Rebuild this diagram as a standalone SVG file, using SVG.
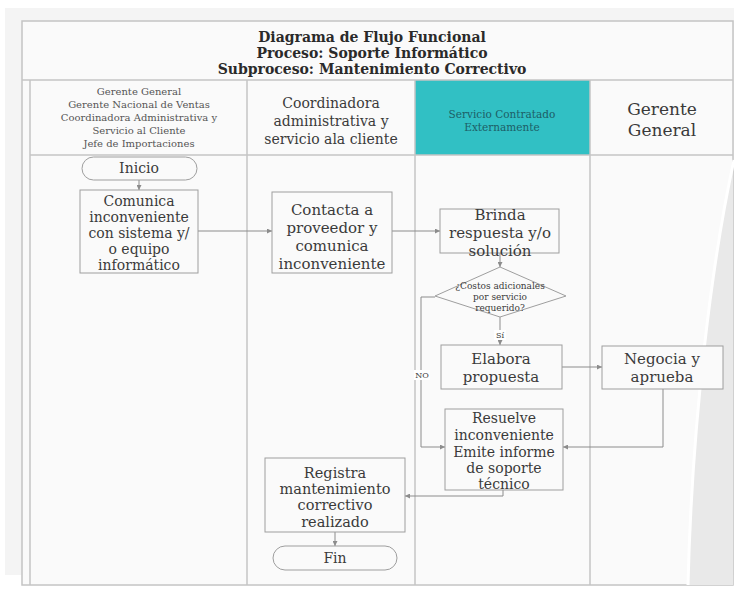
<svg xmlns="http://www.w3.org/2000/svg" width="734" height="591" viewBox="0 0 734 591">
<defs>
<style>
.t{font-family:"DejaVu Serif","Liberation Serif",serif;fill:#3a3a3a;text-anchor:middle}
.ttl{font-family:"DejaVu Serif","Liberation Serif",serif;font-weight:bold;font-size:14px;fill:#2a2a2a;text-anchor:middle}
.box{fill:#fafafa;stroke:#9e9e9e;stroke-width:1}
.lane{stroke:#c4c4c4;stroke-width:1.5;fill:none}
.c{fill:none;stroke:#8c8c8c;stroke-width:1}
.lbl{fill:#ffffff}
</style>
<marker id="ah" viewBox="0 0 6 6" refX="6" refY="3" markerWidth="5" markerHeight="5" orient="auto" markerUnits="userSpaceOnUse">
<path d="M0,0 L6,3 L0,6 Z" fill="#8c8c8c"/>
</marker>
</defs>
<rect x="0" y="0" width="734" height="591" fill="#ffffff"/>
<rect x="5" y="8" width="729" height="567" fill="#f4f4f4"/>
<g id="frame">
<rect x="22" y="21" width="711" height="564" fill="#fafafa" stroke="#c4c4c4" stroke-width="1.5"/>
<path d="M734 160 C 712 260, 692 420, 688 585 L 733 585 L 733 160 Z" fill="#e9e9e9"/>
<path d="M734 160 C 712 260, 692 420, 688 585" fill="none" stroke="#ffffff" stroke-width="3"/>
<rect x="415" y="80" width="175" height="75" fill="#31c0c4"/>
<line class="lane" x1="22" y1="80" x2="733" y2="80"/>
<line class="lane" x1="30" y1="155" x2="733" y2="155"/>
<line class="lane" x1="30" y1="80" x2="30" y2="585"/>
<line class="lane" x1="247" y1="80" x2="247" y2="585"/>
<line class="lane" x1="415" y1="80" x2="415" y2="585"/>
<line class="lane" x1="590" y1="80" x2="590" y2="585"/>
</g>
<g id="title">
<text class="ttl" x="372" y="42">Diagrama de Flujo Funcional</text>
<text class="ttl" x="372" y="58">Proceso: Soporte Informático</text>
<text class="ttl" x="372" y="74">Subproceso: Mantenimiento Correctivo</text>
</g>
<g id="lane-headers">
<g class="t" font-size="10" style="fill:#555">
<text x="139" y="95">Gerente General</text>
<text x="139" y="108">Gerente Nacional de Ventas</text>
<text x="139" y="121">Coordinadora Administrativa y</text>
<text x="139" y="134">Servicio al Cliente</text>
<text x="139" y="147">Jefe de Importaciones</text>
</g>
<g class="t" font-size="14">
<text x="331" y="108">Coordinadora</text>
<text x="331" y="126">administrativa y</text>
<text x="331" y="144">servicio ala cliente</text>
</g>
<g class="t" font-size="10.5" style="fill:#1d5e66">
<text x="502" y="118">Servicio Contratado</text>
<text x="502" y="131">Externamente</text>
</g>
<g class="t" font-size="17">
<text x="662" y="115">Gerente</text>
<text x="662" y="136">General</text>
</g>
</g>
<g id="connectors">
<path class="c" d="M139 180 V190" marker-end="url(#ah)"/>
<path class="c" d="M198 231 H272" marker-end="url(#ah)"/>
<path class="c" d="M392 231 H440" marker-end="url(#ah)"/>
<path class="c" d="M500 253 V267" marker-end="url(#ah)"/>
<path class="c" d="M500 317 V345" marker-end="url(#ah)"/>
<path class="c" d="M435 297 H421 V447 H445" marker-end="url(#ah)"/>
<path class="c" d="M562 367 H602" marker-end="url(#ah)"/>
<path class="c" d="M663 389 V447 H563" marker-end="url(#ah)"/>
<path class="c" d="M503 490 V496 H405" marker-end="url(#ah)"/>
<path class="c" d="M335 532 V546" marker-end="url(#ah)"/>
<rect class="lbl" x="494" y="330" width="12" height="10"/>
<text class="t" font-size="8" x="500" y="338">Sí</text>
<rect class="lbl" x="414" y="370" width="16" height="10"/>
<text class="t" font-size="8" x="422" y="378">NO</text>
</g>
<g id="inicio">
<rect class="box" x="82" y="157" width="115" height="23" rx="11.5"/>
<text class="t" font-size="14" x="139" y="173">Inicio</text>
</g>
<g id="comunica">
<rect class="box" x="80" y="190" width="118" height="83"/>
<g class="t" font-size="14">
<text x="139" y="206">Comunica</text>
<text x="139" y="222">inconveniente</text>
<text x="139" y="238">con sistema y/</text>
<text x="139" y="254">o equipo</text>
<text x="139" y="270">informático</text>
</g>
</g>
<g id="contacta">
<rect class="box" x="272" y="192" width="120" height="81"/>
<g class="t" font-size="15">
<text x="332" y="215">Contacta a</text>
<text x="332" y="233">proveedor y</text>
<text x="332" y="251">comunica</text>
<text x="332" y="269">inconveniente</text>
</g>
</g>
<g id="brinda">
<rect class="box" x="440" y="209" width="119" height="44"/>
<g class="t" font-size="15">
<text x="500" y="220">Brinda</text>
<text x="500" y="238">respuesta y/o</text>
<text x="500" y="256">solución</text>
</g>
</g>
<g id="decision">
<polygon class="box" points="500,267 566,296 500,317 435,296"/>
<g class="t" font-size="9">
<text x="500" y="289">¿Costos adicionales</text>
<text x="500" y="300">por servicio</text>
<text x="500" y="311">requerido?</text>
</g>
</g>
<g id="elabora">
<rect class="box" x="441" y="345" width="121" height="44"/>
<g class="t" font-size="15">
<text x="501" y="364">Elabora</text>
<text x="501" y="382">propuesta</text>
</g>
</g>
<g id="negocia">
<rect class="box" x="602" y="346" width="121" height="43"/>
<g class="t" font-size="15">
<text x="662" y="364">Negocia y</text>
<text x="662" y="382">aprueba</text>
</g>
</g>
<g id="resuelve">
<rect class="box" x="445" y="409" width="118" height="81"/>
<g class="t" font-size="14">
<text x="504" y="423">Resuelve</text>
<text x="504" y="440">inconveniente</text>
<text x="504" y="457">Emite informe</text>
<text x="504" y="473">de soporte</text>
<text x="504" y="489">técnico</text>
</g>
</g>
<g id="registra">
<rect class="box" x="265" y="458" width="140" height="74"/>
<g class="t" font-size="14.5">
<text x="335" y="478">Registra</text>
<text x="335" y="494">mantenimiento</text>
<text x="335" y="510">correctivo</text>
<text x="335" y="527">realizado</text>
</g>
</g>
<g id="fin">
<rect class="box" x="273" y="546" width="124" height="24" rx="12"/>
<text class="t" font-size="14" x="335" y="563">Fin</text>
</g>
</svg>
